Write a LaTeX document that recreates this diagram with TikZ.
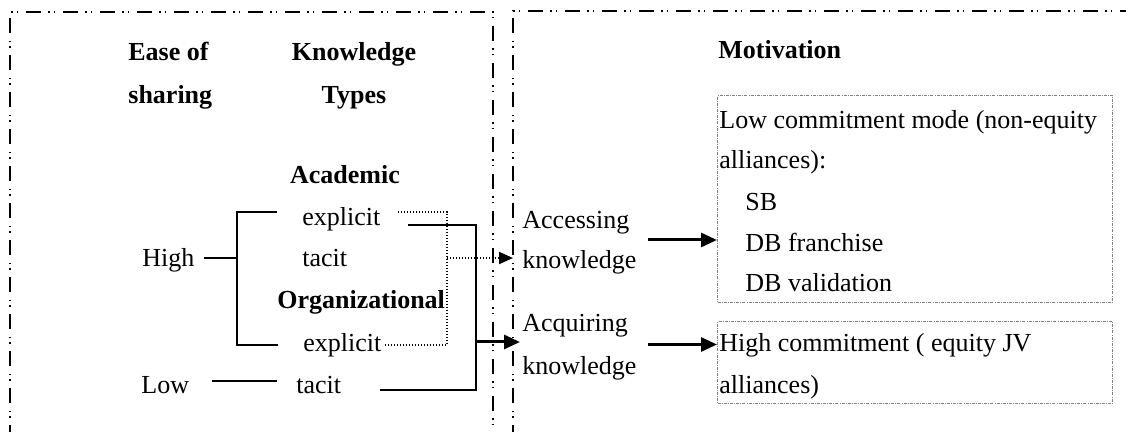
\documentclass[tikz,border=0pt]{standalone}
\usepackage{fontspec}
\setmainfont{Liberation Serif}
\usetikzlibrary{arrows.meta,calc}

\begin{document}
\begin{tikzpicture}[x=0.5pt,y=-0.5pt,
    txt/.style={inner sep=0pt,text height=10pt,text depth=1pt,font=\fontsize{13}{15}\selectfont},
    lt/.style={txt,anchor=west},
    hd/.style={txt,font=\fontsize{13}{15}\selectfont\bfseries},
    frame/.style={line width=0.75pt,dash pattern=on 7.5pt off 3.5pt on 0.8pt off 2pt on 0.8pt off 3.9pt},
    gbox/.style={draw=gray,line width=0.5pt,dash pattern=on 1.5pt off 0.6pt on 0.4pt off 0.6pt,inner sep=0pt,anchor=north west},
    line/.style={line width=1pt},
    dline/.style={line width=1pt,dash pattern=on 0.7pt off 0.8pt},
    arr/.style={line width=1.5pt,-{Triangle[length=8pt,width=7pt]}},
    darr/.style={dline,-{Triangle[length=7pt,width=6pt]}}]
                \clip (0,0) rectangle (1126,432);
                % Frames
                \draw[frame] (10,440) -- (10,12) -- (493,12) -- (493,440);
                \draw[frame] (513,440) -- (513,11) -- (1140,11);
                \coordinate (rtop) at (513,11);
                % Left column
                \node[hd,anchor=west] (easea) at (128,52) {Ease of};
                \node[hd,anchor=west] (easeb) at (128,95) {sharing};
                \node[hd] (knowa) at (354,52) {Knowledge};
                \node[hd] (knowb) at (354,95) {Types};
                \node[hd] (acad) at (345,175) {Academic};
                \node[lt] (exa) at (302,217) {explicit};
                \node[lt] (taa) at (302,258) {tacit};
                \node[hd,anchor=west] (org) at (277,300) {Organizational};
                \node[lt] (exo) at (303,343) {explicit};
                \node[lt] (tao) at (296,385) {tacit};
                \node[lt] (high) at (142,258) {High};
                \node[lt] (low) at (141,385) {Low};
                \coordinate (brk) at (237,258);
                \coordinate (jn) at (476,342);
                \coordinate (dj) at (447,258);
                % Brackets
                \draw[line] ([xshift=4.5pt]high.east) -- (brk);
                \draw[line] ([xshift=-12.5pt,yshift=2.5pt]exa.west) -| (brk) |- ([xshift=-12.5pt,yshift=-1pt]exo.west);
                \draw[line] ([xshift=11.5pt,yshift=2pt]low.east) -- ([xshift=-9.5pt,yshift=2pt]tao.west);
                \draw[line] ([xshift=13.5pt,yshift=-4pt]exa.east) -| (jn) |- ([xshift=19pt,yshift=-2.5pt]tao.east);
                \draw[dline] ([xshift=8.5pt,yshift=2.5pt]exa.east) -| (dj) |- ([xshift=1pt,yshift=-1pt]exo.east);
                % Middle
                \node[lt] (acca) at (522,220) {Accessing};
                \node[lt] (accb) at (522,260) {knowledge};
                \node[lt] (acqa) at (522,323) {Acquiring};
                \node[lt] (acqb) at (522,366) {knowledge};
                \coordinate (acqin) at ([xshift=-1pt]acqa.west);
                \draw[darr] (dj) -- (dj -| rtop);
                \draw[arr] (jn) -- (jn -| acqin);
                % Motivation
                \node[hd,anchor=west] (motiv) at (718,50) {Motivation};
                \node[gbox,minimum width=197.5pt,minimum height=103.5pt] (lowbox) at (717,95) {};
                \node[gbox,minimum width=197.5pt,minimum height=41pt] (highbox) at (717,321) {};
                \node[lt] (lowa) at (719,120) {Low commitment mode (non-equity};
                \node[lt] (lowb) at (719,160) {alliances):};
                \node[lt] (sb) at (745,202) {SB};
                \node[lt] (dbf) at (745,243) {DB franchise};
                \node[lt] (dbv) at (745,283) {DB validation};
                \node[lt] (higha) at (719,343) {High commitment ( equity JV};
                \node[lt] (highb) at (719,385) {alliances)};
                \coordinate (accout) at ($(acca.east)!.5!(accb.east)+(7.5pt,0)$);
                \coordinate (acqout) at ($(acqa.east)!.5!(acqb.east)+(7.5pt,0)$);
                \draw[arr] (accout) -- (accout -| lowbox.west);
                \draw[arr] (acqout) -- (acqout -| highbox.west);
\end{tikzpicture}
\end{document}
